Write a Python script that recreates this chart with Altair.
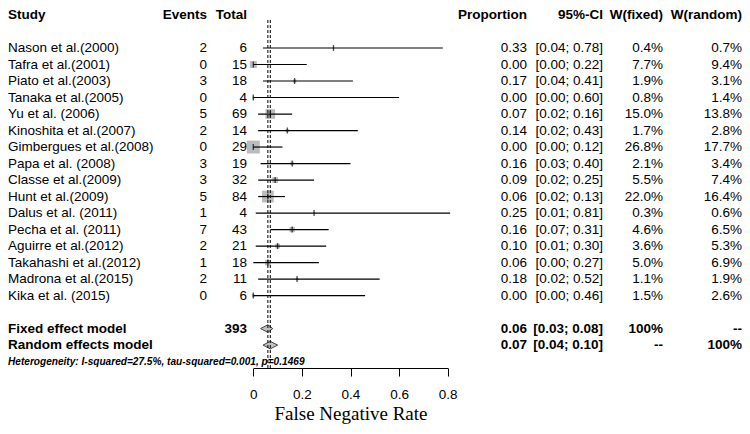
import altair as alt
import pandas as pd

# ---------------- data ----------------
studies = ["Nason et al.(2000)", "Tafra et al.(2001)", "Piato et al.(2003)", "Tanaka et al.(2005)",
           "Yu et al. (2006)", "Kinoshita et al.(2007)", "Gimbergues et al.(2008)", "Papa et al. (2008)",
           "Classe et al.(2009)", "Hunt et al.(2009)", "Dalus et al. (2011)", "Pecha et al. (2011)",
           "Aguirre et al.(2012)", "Takahashi et al.(2012)", "Madrona et al.(2015)", "Kika et al. (2015)"]
events = [2, 0, 3, 0, 5, 2, 0, 3, 3, 5, 1, 7, 2, 1, 2, 0]
totals = [6, 15, 18, 4, 69, 14, 29, 19, 32, 84, 4, 43, 21, 18, 11, 6]
props = [0.33, 0.00, 0.17, 0.00, 0.07, 0.14, 0.00, 0.16, 0.09, 0.06, 0.25, 0.16, 0.10, 0.06, 0.18, 0.00]
lower = [0.04, 0.00, 0.04, 0.00, 0.02, 0.02, 0.00, 0.03, 0.02, 0.02, 0.01, 0.07, 0.01, 0.00, 0.02, 0.00]
upper = [0.78, 0.22, 0.41, 0.60, 0.16, 0.43, 0.12, 0.40, 0.25, 0.13, 0.81, 0.31, 0.30, 0.27, 0.52, 0.46]
w_fixed = [0.4, 7.7, 1.9, 0.8, 15.0, 1.7, 26.8, 2.1, 5.5, 22.0, 0.3, 4.6, 3.6, 5.0, 1.1, 1.5]
w_random = [0.7, 9.4, 3.1, 1.4, 13.8, 2.8, 17.7, 3.4, 7.4, 16.4, 0.6, 6.5, 5.3, 6.9, 1.9, 2.6]

models = ["Fixed effect model", "Random effects model"]
model_est = [0.06, 0.07]
model_lo = [0.03, 0.04]
model_hi = [0.08, 0.10]
model_total = ["393", ""]
model_wf = ["100%", "--"]
model_wr = ["--", "100%"]

headers = ["Study", "Events", "Total", "Proportion", "95%-CI", "W(fixed)", "W(random)"]
heterogeneity = "Heterogeneity: I-squared=27.5%, tau-squared=0.001, p=0.1469"
x_ticks = [0, 0.2, 0.4, 0.6, 0.8]
x_title = "False Negative Rate"

# ---------------- layout ----------------
FONT = "Liberation Sans"
FS = 13.5
W, H = 734, 360
ROW0 = 2
ROW_FIXED, ROW_RANDOM, ROW_HET = 19, 20, 21

x_scale = alt.Scale(domain=[0, 0.8], range=[245.3, 439.7], nice=False, zero=False)
y_scale = alt.Scale(domain=[0, 21], range=[7, 353.6], nice=False, zero=False)

x_axis = alt.Axis(values=x_ticks, title=x_title, titleFont="Liberation Serif", titleFontSize=19,
                  titleFontWeight="normal", titleColor="black", titlePadding=4,
                  labelFont=FONT, labelFontSize=13.5, labelColor="black", labelPadding=11,
                  labelFlush=False, labelOverlap=False,
                  labelExpr="datum.value == 0 ? '0' : format(datum.value, '.1f')",
                  tickSize=8, tickColor="black", tickWidth=1, domainColor="black", domainWidth=1,
                  grid=False)


def X(field):
    return alt.X(f"{field}:Q", scale=x_scale, axis=x_axis)


def Y(field="row"):
    return alt.Y(f"{field}:Q", scale=y_scale, axis=None)


# ---------------- tables ----------------
study_df = pd.DataFrame({
    "row": [ROW0 + i for i in range(len(studies))],
    "c0": studies,
    "c1": [str(e) for e in events],
    "c2": [str(t) for t in totals],
    "c3": [f"{p:.2f}" for p in props],
    "c4": [f"[{l:.2f}; {u:.2f}]" for l, u in zip(lower, upper)],
    "c5": [f"{w:.1f}%" for w in w_fixed],
    "c6": [f"{w:.1f}%" for w in w_random],
    "prop": props, "lo": lower, "hi": upper,
    "sq": [6.25 * w for w in w_fixed],
})

header_df = pd.DataFrame({"row": [0], **{f"c{i}": [h] for i, h in enumerate(headers)}})

summary_df = pd.DataFrame({
    "row": [ROW_FIXED, ROW_RANDOM],
    "c0": models,
    "c1": ["", ""],
    "c2": model_total,
    "c3": [f"{p:.2f}" for p in model_est],
    "c4": [f"[{l:.2f}; {u:.2f}]" for l, u in zip(model_lo, model_hi)],
    "c5": model_wf,
    "c6": model_wr,
})

diamond_rows = []
for m, r, e, l, u in zip(models, [ROW_FIXED, ROW_RANDOM], model_est, model_lo, model_hi):
    diamond_rows += [
        {"model": m, "x": l, "y": r, "y2": r},
        {"model": m, "x": e, "y": r - 0.23, "y2": r + 0.23},
        {"model": m, "x": u, "y": r, "y2": r},
    ]
diamond_df = pd.DataFrame(diamond_rows)

ref_df = pd.DataFrame({"x": model_est})

col_x = [0, 199, 239, 519, 595, 655, 734]
col_align = ["left", "right", "right", "right", "right", "right", "right"]


def text_layers(df, bold):
    out = []
    for i in range(7):
        out.append(
            alt.Chart(df).mark_text(align=col_align[i], baseline="middle", font=FONT, fontSize=FS,
                                    fontWeight="bold" if bold else "normal", color="black")
            .encode(x=alt.value(col_x[i]), y=Y(), text=f"c{i}:N")
        )
    return out


# ---------------- marks ----------------
squares = alt.Chart(study_df).mark_square(color="#BBBBBB", opacity=1, strokeWidth=0).encode(
    x=X("prop"), y=Y(), size=alt.Size("sq:Q", scale=None, legend=None))

ci = alt.Chart(study_df).mark_rule(color="black", strokeWidth=1.2).encode(
    x=X("lo"), x2="hi:Q", y=Y())

est = alt.Chart(study_df).mark_tick(orient="vertical", color="black", size=6, thickness=1.3).encode(
    x=X("prop"), y=Y())

diamonds = alt.Chart(diamond_df).mark_area(fill="#C0C0C0", stroke="#444444", strokeWidth=1,
                                           opacity=1).encode(
    x=X("x"), y=Y("y"), y2="y2:Q", detail="model:N")

refs = alt.Chart(ref_df).mark_rule(color="black", strokeWidth=1, strokeDash=[3, 2]).encode(
    x=X("x"), y=alt.value(12), y2=alt.value(H))

het = alt.Chart(pd.DataFrame({"row": [ROW_HET], "t": [heterogeneity]})).mark_text(
    align="left", baseline="middle", font=FONT, fontSize=10.1, fontWeight="bold", fontStyle="italic",
    color="black").encode(x=alt.value(0), y=Y(), text="t:N")

layers = [squares, ci, est, diamonds, refs] + text_layers(header_df, True) + \
    text_layers(study_df, False) + text_layers(summary_df, True) + [het]

chart = alt.layer(*layers).properties(
    width=W, height=H,
    autosize=alt.AutoSizeParams(type="none"),
    padding={"left": 0, "top": 0, "right": 0, "bottom": 56},
    background="white",
).configure_view(stroke=None)

chart.save("out.html", embed_options={"renderer": "svg", "actions": False})
